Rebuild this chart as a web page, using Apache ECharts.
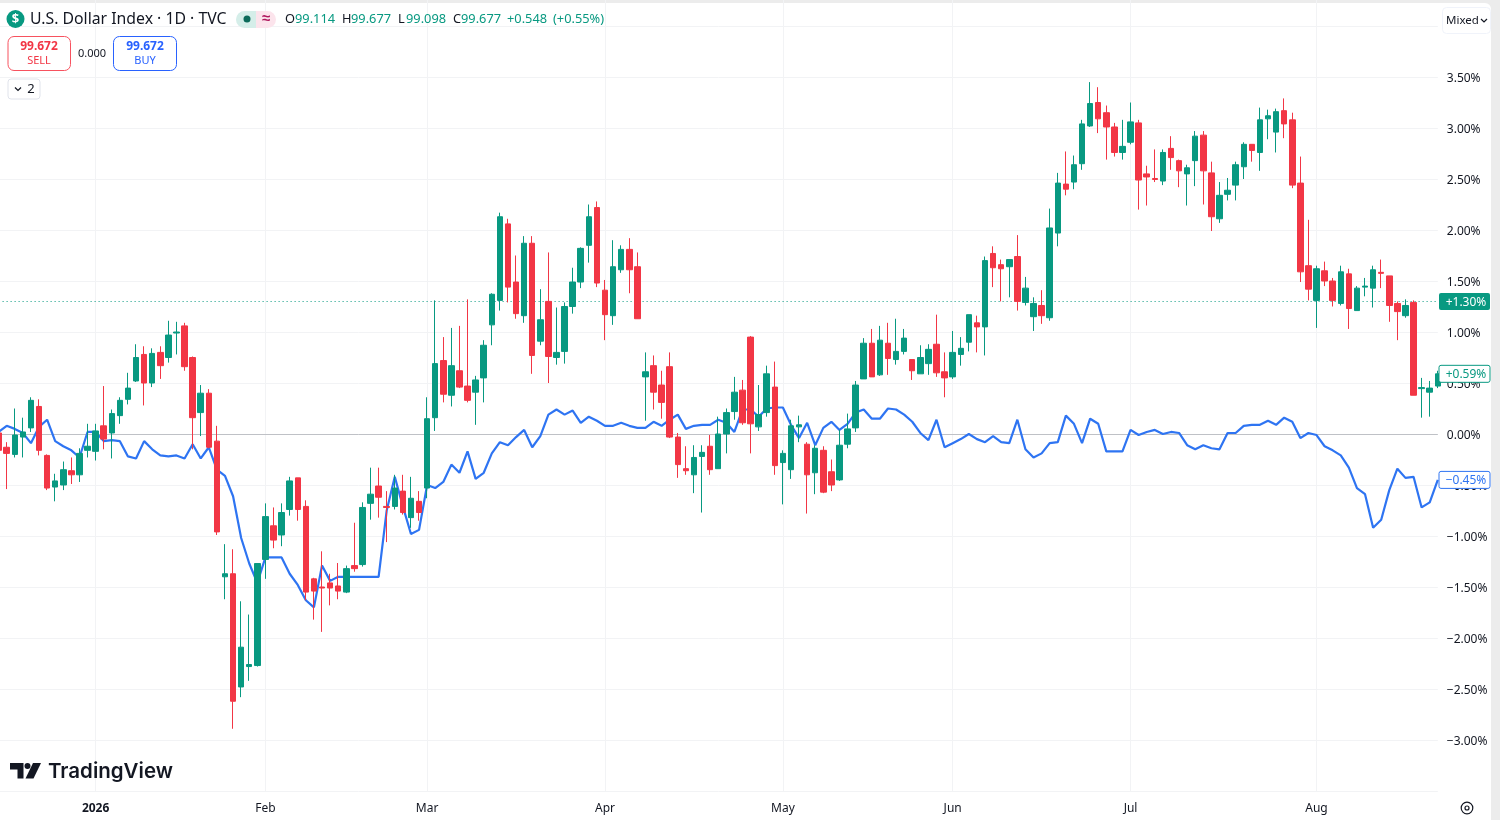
<!DOCTYPE html>
<html><head><meta charset="utf-8"><title>U.S. Dollar Index</title>
<style>
html,body{margin:0;padding:0;background:#ececec;width:1500px;height:820px;overflow:hidden}
#panel{position:absolute;left:0;top:3px;width:1491px;height:817px;background:#fff;border-top-right-radius:6px}
#chart{position:absolute;left:0;top:0;width:1500px;height:820px}
</style>
<script src="https://cdn.jsdelivr.net/npm/echarts@6/dist/echarts.min.js"></script>
</head><body><div id="panel"></div><div id="chart"></div>
<script>
const opens=[.01,-.13,-.20,-.03,.06,.27,-.21,-.52,-.50,-.36,
-.40,-.16,-.17,.08,.01,.18,.34,.52,.78,.50,
.80,.75,.99,1.06,.75,.21,.40,-.07,-1.40,-1.37,
-2.48,-2.28,-2.27,-1.23,-.90,-.99,-.74,-.43,-.71,-1.42,
-1.50,-1.46,-1.49,-1.55,-1.29,-1.28,-.68,-.51,-.71,-.71,
-.56,-.82,-.66,-.53,.16,.72,.38,.62,.47,.41,
.55,1.07,1.31,2.06,1.49,1.16,1.87,.91,1.30,.75,
.81,1.25,1.49,1.85,2.22,1.41,1.16,1.61,1.81,1.64,
.56,.67,.48,.66,-.03,-.34,-.40,-.22,-.12,-.34,
0,.22,.43,.95,.07,.21,.46,-.28,-.35,.07,
-.10,-.38,-.16,-.37,-.45,-.10,.06,.54,.89,.58,
.89,.73,.81,.73,.59,.69,.88,.61,.56,.78,
.90,1.09,1.05,1.77,1.66,1.64,1.74,1.29,1.15,1.26,
1.14,1.97,2.45,2.47,2.65,3.02,3.25,3.15,3.01,2.76,
2.86,3.05,2.55,2.505,2.48,2.80,2.68,2.55,2.68,2.93,
2.56,2.11,2.35,2.44,2.62,2.84,2.76,3.09,2.96,3.17,
3.08,2.46,1.65,1.31,1.60,1.50,1.28,1.57,1.21,1.44,
1.43,1.585,1.55,1.28,1.16,1.29,.445,.41,.47];
const closes=[-.16,-.19,-.01,.02,.33,-.16,-.53,-.46,-.35,-.40,
-.19,-.12,.03,-.05,.20,.33,.45,.75,.50,.79,
.67,.97,1.00,.66,.16,.40,-.13,-.96,-1.37,-2.62,
-2.09,-2.26,-1.27,-.81,-1.04,-.77,-.46,-.74,-1.55,-1.54,
-1.51,-1.51,-1.54,-1.32,-1.32,-.72,-.59,-.62,-.72,-.53,
-.77,-.63,-.77,.15,.69,.39,.67,.46,.33,.53,
.87,1.37,2.13,1.44,1.18,1.87,.77,1.12,.76,.80,
1.25,1.49,1.82,2.13,1.48,1.17,1.64,1.81,1.61,1.13,
.61,.41,.31,-.03,-.30,-.36,-.23,-.18,-.35,0,
.21,.41,.11,.10,.19,.59,-.31,-.19,.08,.09,
-.40,-.14,-.57,-.50,-.11,.05,.48,.89,.56,.92,
.74,.81,.94,.62,.75,.83,.60,.55,.80,.84,
1.17,1.05,1.70,1.63,1.62,1.71,1.30,1.43,1.28,1.16,
2.02,2.46,2.40,2.64,3.04,3.24,3.09,3.01,2.76,2.82,
3.06,2.49,2.52,2.495,2.76,2.71,2.58,2.61,2.92,2.58,
2.13,2.34,2.39,2.64,2.84,2.78,3.08,3.12,3.16,3.04,
2.44,1.59,1.42,1.62,1.50,1.31,1.59,1.23,1.43,1.45,
1.61,1.575,1.26,1.20,1.26,.38,.455,.45,.59];
const highs=[.10,-.08,.25,.16,.36,.34,-.20,-.39,-.27,-.23,
-.14,.10,.10,.47,.24,.36,.60,.88,.86,.84,
.86,1.11,1.10,1.09,.76,.48,.44,.08,-1.08,-1.13,
-1.64,-1.77,-1.27,-.68,-.72,-.68,-.42,-.43,-.65,-1.41,
-1.15,-1.37,-1.265,-1.29,-.87,-.67,-.33,-.33,-.56,-.40,
-.40,-.42,-.56,.36,1.31,.95,1.04,1.06,1.32,.57,
.92,1.38,2.17,2.11,1.75,1.94,1.94,1.42,1.78,1.24,
1.29,1.63,1.83,2.25,2.28,1.51,1.90,1.85,1.92,1.78,
.80,.77,.62,.80,.01,-.12,-.11,-.11,-.01,.17,
.25,.56,.53,.96,.48,.67,.71,-.16,.14,.18,
-.08,-.11,-.12,-.25,.04,.20,.52,.94,1.03,1.06,
1.09,1.13,1.03,.73,.87,.88,1.17,.80,1.01,.95,
1.17,1.16,1.74,1.84,1.71,1.71,1.95,1.54,1.34,1.41,
2.21,2.56,2.77,2.73,3.08,3.45,3.40,3.22,3.05,3.08,
3.25,3.08,2.63,2.79,2.79,2.92,2.69,2.64,2.97,2.97,
2.67,2.47,2.51,2.67,2.86,2.84,3.20,3.18,3.19,3.29,
3.15,2.72,2.10,1.65,1.69,1.53,1.65,1.62,1.45,1.53,
1.65,1.71,1.55,1.30,1.32,1.31,.55,.52,.62];
const lows=[-.23,-.54,-.23,-.23,.02,-.21,-.55,-.66,-.55,-.49,
-.47,-.23,-.26,-.15,-.24,.10,.29,.51,.28,.46,
.54,.70,.78,.62,-.15,-.02,-.14,-.99,-1.62,-2.89,
-2.58,-2.42,-2.28,-1.42,-1.12,-1.10,-.80,-.85,-1.63,-1.82,
-1.94,-1.68,-1.62,-1.56,-1.35,-1.30,-.84,-.82,-1.06,-.74,
-.79,-.92,-.85,-.63,.03,.31,.27,.45,.31,.09,
.31,.87,1.21,1.29,1.13,1.09,.59,.87,.50,.68,
.69,1.18,1.43,1.68,1.44,.92,1.07,1.58,1.38,1.13,
.13,.24,.15,-.04,-.43,-.40,-.58,-.77,-.40,-.34,
-.19,.14,.09,-.19,.03,.17,-.40,-.69,-.44,-.08,
-.78,-.59,-.58,-.56,-.46,-.14,.02,.54,.56,.57,
.58,.68,.78,.53,.59,.58,.56,.36,.54,.67,
.81,.80,.77,1.44,1.30,1.34,1.21,1.26,1.01,1.08,
1.11,1.84,2.34,2.40,2.59,3.01,2.95,2.69,2.72,2.69,
2.84,2.20,2.24,2.47,2.44,2.59,2.42,2.24,2.43,2.25,
1.99,2.07,2.29,2.29,2.50,2.67,2.58,2.89,2.76,2.90,
2.41,1.49,1.31,1.04,1.45,1.25,1.26,1.03,1.21,1.35,
1.24,1.43,1.10,.92,1.14,.38,.16,.17,.45];
const comparison=[.02,.08,.05,.01,-.09,.07,.14,-.07,-.12,-.16,
-.23,.02,.02,-.07,-.06,-.07,-.22,-.24,-.07,-.15,
-.21,-.22,-.21,-.24,-.10,-.24,-.13,-.35,-.41,-.61,
-1.02,-1.27,-1.46,-1.21,-1.21,-1.21,-1.37,-1.48,-1.63,-1.70,
-1.29,-1.44,-1.40,-1.40,-1.40,-1.40,-1.40,-1.40,-.75,-.42,
-.71,-.98,-.94,-.50,-.53,-.47,-.30,-.38,-.17,-.44,
-.38,-.19,-.08,-.11,-.03,.04,-.13,-.02,.19,.24,
.19,.23,.11,.17,.13,.08,.08,.11,.08,.06,
.06,.12,.08,.14,.19,.05,.08,.09,.09,.14,
.11,.02,.24,.24,.17,.25,.26,.26,.09,-.04,
.11,-.11,.06,.12,.04,.10,.21,.24,.15,.15,
.25,.24,.19,.12,.01,-.06,.14,-.13,-.09,-.05,
0,-.05,-.08,-.02,-.08,-.09,.14,-.15,-.23,-.19,
-.09,-.08,.18,.10,-.09,.15,.10,-.17,-.17,-.17,
.04,-.01,.02,.04,0,.02,.01,-.11,-.15,-.11,
-.14,-.15,.01,.01,.08,.09,.09,.13,.09,.16,
.12,-.04,.01,-.01,-.12,-.16,-.21,-.33,-.53,-.59,
-.92,-.84,-.55,-.34,-.43,-.42,-.72,-.67,-.45];
const tickPositions=[12,33,53,75,97,118,140,163];
const tickLabels=['2026','Feb','Mar','Apr','May','Jun','Jul','Aug'];
const categories=opens.map((_,i)=>{const k=tickPositions.indexOf(i);return k<0?'':tickLabels[k];});
const priceLevel=1.30;
const UP='#089981',DOWN='#F23645',BLUE='#2E74F2',INK='#131722',GRID='#f2f3f5';
const FONT='"Noto Sans", sans-serif';

const chart=echarts.init(document.getElementById('chart'),null,{renderer:'canvas'});
chart.setOption({
  backgroundColor:'transparent',animation:false,
  grid:{left:-1.4,right:62.2,top:-25,bottom:29,containLabel:false,outerBoundsMode:'none'},
  xAxis:{type:'category',boundaryGap:false,data:categories,
    axisLine:{show:false},axisTick:{show:false},
    axisLabel:{interval:0,margin:12,color:INK,fontFamily:FONT,fontSize:12,showMinLabel:true,showMaxLabel:true,
      formatter:v=>v==='2026'?'{y|2026}':v,rich:{y:{fontWeight:'bold',fontSize:12,color:INK,fontFamily:FONT}}},
    splitLine:{show:true,interval:(i,v)=>v!=='',lineStyle:{color:GRID,width:1}}},
  yAxis:{type:'value',position:'right',min:-3.5,max:4.5,interval:.5,scale:false,
    axisLine:{show:false},axisTick:{show:false},
    axisLabel:{margin:9,color:INK,fontFamily:FONT,fontSize:12,align:'left',
      rich:{p:{color:INK,fontFamily:FONT,fontSize:12,padding:[4,0,0,0]}},
      formatter:v=>(Math.abs(v-4)<.01||Math.abs(v-4.5)<.01||Math.abs(v+3.5)<.01)?'':'{p|'+(v<0?'\u2212':'')+Math.abs(v).toFixed(2)+'%}'},
    splitLine:{show:true,lineStyle:{color:GRID,width:1}}},
  series:[
    {name:'Comparison',type:'line',z:1,data:comparison,symbol:'none',smooth:false,silent:true,
      lineStyle:{color:BLUE,width:2.2},
      markLine:{silent:true,z:0,symbol:'none',label:{show:false},animation:false,
        data:[{yAxis:0,lineStyle:{color:'#bfc1c6',width:1,type:'solid'}},
              {yAxis:priceLevel,lineStyle:{color:UP,width:1,type:[1,3]}}]}},
    {name:'U.S. Dollar Index',type:'candlestick',z:2,barWidth:6,silent:true,
      data:categories.map((_,i)=>[opens[i],closes[i],lows[i],highs[i]]),
      itemStyle:{color:UP,color0:DOWN,borderColor:UP,borderColor0:DOWN,borderColorDoji:UP,borderWidth:1}}
  ]
});

function T(text,x,y,o={}){return {type:'text',z:o.z||30,silent:true,style:{text,x,y,fill:o.fill||INK,
  font:(o.weight||'normal')+' '+(o.size||12)+'px '+(o.family||FONT),align:o.align||'left',verticalAlign:'middle'}};}
function box(x,y,w,h,o={}){return {type:'rect',z:o.z||29,silent:true,shape:{x,y,width:w,height:h,r:o.r||0},
  style:{fill:o.fill||'#fff',stroke:o.stroke||null,lineWidth:o.lw||1}};}
function poly(pts,fill){return {type:'polygon',z:30,silent:true,shape:{points:pts},style:{fill}};}
function chev(cx,cy,c){return {type:'polyline',z:30,silent:true,shape:{points:[[cx-3,cy-1.5],[cx,cy+1.5],[cx+3,cy-1.5]]},style:{stroke:c||INK,lineWidth:1.2,fill:null}};}
function valueTag(value,kind,color){
  const y=chart.convertToPixel({yAxisIndex:0},value);
  const s=(value<0?'\u2212':'+')+Math.abs(value).toFixed(2)+'%';
  return [box(1439,y-8.5,51,17,kind==='solid'?{fill:color,r:2}:{fill:'#fff',stroke:color,lw:1,r:2}),
          T(s,1466,y+.8,{fill:kind==='solid'?'#fff':color,align:'center',size:12})];
}
const legend=[['O',285,INK],['99.114',295,UP],['H',342,INK],['99.677',351,UP],['L',398,INK],['99.098',406,UP],['C',453,INK],['99.677',461,UP],['+0.548',507,UP],['(+0.55%)',553,UP]];
chart.setOption({graphic:[
  {type:'circle',z:29,silent:true,shape:{cx:15.5,cy:19,r:9},style:{fill:UP}},
  T('$',15.5,19,{fill:'#fff',weight:'bold',size:13,align:'center'}),
  T('U.S. Dollar Index \u00b7 1D \u00b7 TVC',30,19.5,{size:15.8}),
  {type:'rect',z:29,silent:true,shape:{x:236,y:11,width:20,height:17,r:[8.5,0,0,8.5]},style:{fill:'#d5eee9'}},
  {type:'rect',z:29,silent:true,shape:{x:256,y:11,width:20,height:17,r:[0,8.5,8.5,0]},style:{fill:'#fce4ec'}},
  {type:'circle',z:30,silent:true,shape:{cx:247,cy:19,r:3.5},style:{fill:'#0b6b5a'}},
  T('\u2248',266,19,{fill:'#b0185f',size:15,align:'center',weight:'bold'}),
  ...legend.map(l=>T(l[0],l[1],19.5,{fill:l[2],size:12.8})),
  box(8,36.5,62.5,34,{fill:'#fff',stroke:'#f7525f',r:6}),
  T('99.672',39,46.5,{fill:DOWN,weight:'bold',align:'center'}),
  T('SELL',39,60.5,{fill:DOWN,size:11,align:'center'}),
  T('0.000',92,53.5,{size:11,align:'center'}),
  box(113.5,36.5,63,34,{fill:'#fff',stroke:'#2962ff',r:6}),
  T('99.672',145,46.5,{fill:'#2962ff',weight:'bold',align:'center'}),
  T('BUY',145,60.5,{fill:'#2962ff',size:11,align:'center'}),
  box(8,79,32,20,{fill:'#fff',stroke:'#e0e3eb',r:3}),
  chev(18,89),
  T('2',31,89,{size:13,align:'center'}),
  box(1442.5,7.5,48,26,{fill:'#fff',stroke:'#f0f3fa',r:4}),
  T('Mixed',1446,20.5,{size:11.5}),
  chev(1484,20.5),
  poly([[10,763],[23.5,763],[23.5,778.5],[17.5,778.5],[17.5,769.5],[10,769.5]],INK),
  {type:'circle',z:30,silent:true,shape:{cx:27.5,cy:766,r:3},style:{fill:INK}},
  poly([[33,763],[41,763],[33.5,778.5],[25.5,778.5]],INK),
  T('TradingView',48,771.5,{size:20.5,weight:'600',family:'Inter, sans-serif'}),
  {type:'circle',z:30,silent:true,shape:{cx:1467,cy:808,r:5.8},style:{fill:'none',stroke:INK,lineWidth:1.2}},
  {type:'circle',z:30,silent:true,shape:{cx:1467,cy:808,r:2},style:{fill:'none',stroke:INK,lineWidth:1.2}},
  ...valueTag(priceLevel,'solid',UP),
  ...valueTag(closes[closes.length-1],'outline',UP),
  ...valueTag(comparison[comparison.length-1],'outline',BLUE)
]});
</script></body></html>
